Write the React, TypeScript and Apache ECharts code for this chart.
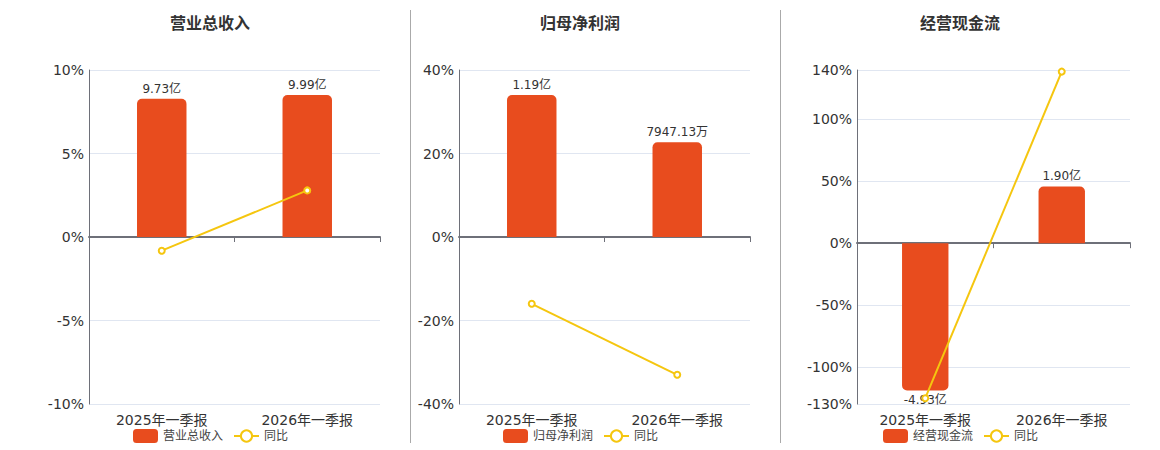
import React, { useEffect, useRef } from 'react';
import * as echarts from 'echarts';

// ---- data ----
const categories = ['2025年一季报', '2026年一季报'];

const revenueName = '营业总收入';
const revenue = [9.73, 9.99]; // 亿
const revenueYoy = [-0.82, 2.79]; // %
const revenueTicks = [-10, -5, 0, 5, 10];

const netProfitName = '归母净利润';
const netProfit = [1.19, 0.794713]; // 亿
const netProfitYoy = [-16.0, -33.0];
const netProfitTicks = [-40, -20, 0, 20, 40];

const cashFlowName = '经营现金流';
const cashFlow = [-4.93, 1.9]; // 亿
const cashFlowYoy = [-125.3, 138.7];
const cashFlowTicks = [-130, -100, -50, 0, 50, 100, 140];

const yoyName = '同比';

function fmtAmount(v: number): string {
  return Math.abs(v) >= 1 ? v.toFixed(2) + '亿' : (v * 10000).toFixed(2) + '万';
}

const FONT = "'DejaVu Sans', 'Noto Sans CJK SC', sans-serif";

export default function App() {
  const ref = useRef<HTMLDivElement>(null);

  useEffect(() => {
    if (!ref.current) return;
    const chart = echarts.init(ref.current, null, { renderer: 'svg' });

    const panels = [
      { name: revenueName, bars: revenue, yoy: revenueYoy, ticks: revenueTicks, center: 210, left: 89, right: 380 },
      { name: netProfitName, bars: netProfit, yoy: netProfitYoy, ticks: netProfitTicks, center: 580, left: 459, right: 750 },
      { name: cashFlowName, bars: cashFlow, yoy: cashFlowYoy, ticks: cashFlowTicks, center: 960, left: 857, right: 1130 },
    ];

    const axisColor = '#6e7079';
    const textColor = '#333';
    const legendColor = '#444';
    const barColor = '#e84c1e';
    const lineColor = '#f5c60f';

    const grid: any[] = [];
    const xAxis: any[] = [];
    const yAxis: any[] = [];
    const series: any[] = [];
    const legend: any[] = [];
    const graphic: any[] = [];

    panels.forEach((p, i) => {
      grid.push({ left: p.left, top: 70, width: p.right - p.left, height: 334 });

      xAxis.push({
        gridIndex: i,
        type: 'category',
        data: categories,
        position: 'bottom',
        axisLine: { show: true, onZero: true, lineStyle: { color: axisColor, width: 2 } },
        axisTick: { show: true, length: 5, lineStyle: { color: axisColor } },
        axisLabel: { show: false },
        splitLine: { show: false },
      });
      xAxis.push({
        gridIndex: i,
        type: 'category',
        data: categories,
        position: 'bottom',
        axisLine: { show: false, onZero: false },
        axisTick: { show: false },
        axisLabel: { show: true, fontSize: 14, color: textColor, margin: 9, fontFamily: FONT },
        splitLine: { show: false },
      });

      const pMin = p.ticks[0];
      const pMax = p.ticks[p.ticks.length - 1];
      const steps = p.ticks.slice(1).map((t, k) => t - p.ticks[k]);
      const uniform = steps.every((s) => s === steps[0]);
      const maxAbs = Math.max(...p.bars.map((v) => Math.abs(v)));
      const bMax = maxAbs / 0.85;
      const bMin = (bMax * pMin) / pMax;

      yAxis.push({
        gridIndex: i,
        type: 'value',
        min: pMin,
        max: pMax,
        interval: uniform ? steps[0] : undefined,
        axisLine: { show: true, lineStyle: { color: axisColor } },
        axisTick: { show: false },
        axisLabel: { formatter: '{value}%', fontSize: 14, color: textColor, margin: 5, fontFamily: FONT },
        splitLine: { show: true, lineStyle: { color: '#e0e6f1' } },
      });
      yAxis.push({
        gridIndex: i,
        type: 'value',
        show: false,
        min: bMin,
        max: bMax,
        splitLine: { show: false },
      });

      series.push({
        name: p.name,
        type: 'bar',
        xAxisIndex: 2 * i,
        yAxisIndex: 2 * i + 1,
        barWidth: '34%',
        data: p.bars.map((v) => ({
          value: v,
          itemStyle: { borderRadius: v >= 0 ? [5, 5, 0, 0] : [0, 0, 5, 5] },
          label: { position: v >= 0 ? 'top' : 'bottom' },
        })),
        itemStyle: { color: barColor },
        label: {
          show: true,
          fontSize: 12,
          color: textColor,
          distance: 4,
          fontFamily: FONT,
          formatter: (d: any) => fmtAmount(d.value),
        },
      });
      series.push({
        name: yoyName,
        type: 'line',
        xAxisIndex: 2 * i,
        yAxisIndex: 2 * i,
        data: p.yoy,
        symbol: 'emptyCircle',
        symbolSize: 6,
        itemStyle: { color: lineColor },
        lineStyle: { color: lineColor, width: 2 },
        z: 3,
      });

      legend.push({
        data: [p.name, yoyName],
        left: p.center - 82,
        top: 424,
        itemWidth: 25,
        itemHeight: 14,
        itemGap: 10,
        textStyle: { fontSize: 12, color: legendColor, fontFamily: FONT },
      });

      graphic.push({
        type: 'text',
        x: p.center,
        y: 23,
        style: {
          text: p.name,
          fontSize: 16,
          fontWeight: 'bold',
          fontFamily: FONT,
          fill: textColor,
          align: 'center',
          verticalAlign: 'middle',
        },
      });
    });

    [410.5, 780.5].forEach((x) => {
      graphic.push({
        type: 'line',
        shape: { x1: x, y1: 10, x2: x, y2: 443 },
        style: { stroke: '#aaaaaa', lineWidth: 1 },
      });
    });

    chart.setOption({
      animation: false,
      textStyle: { fontFamily: FONT },
      grid,
      xAxis,
      yAxis,
      series,
      legend,
      graphic,
    });

    return () => chart.dispose();
  }, []);

  return (
    <div
      ref={ref}
      style={{ position: 'fixed', left: 0, top: 0, width: 1160, height: 450, background: '#fff' }}
    />
  );
}
